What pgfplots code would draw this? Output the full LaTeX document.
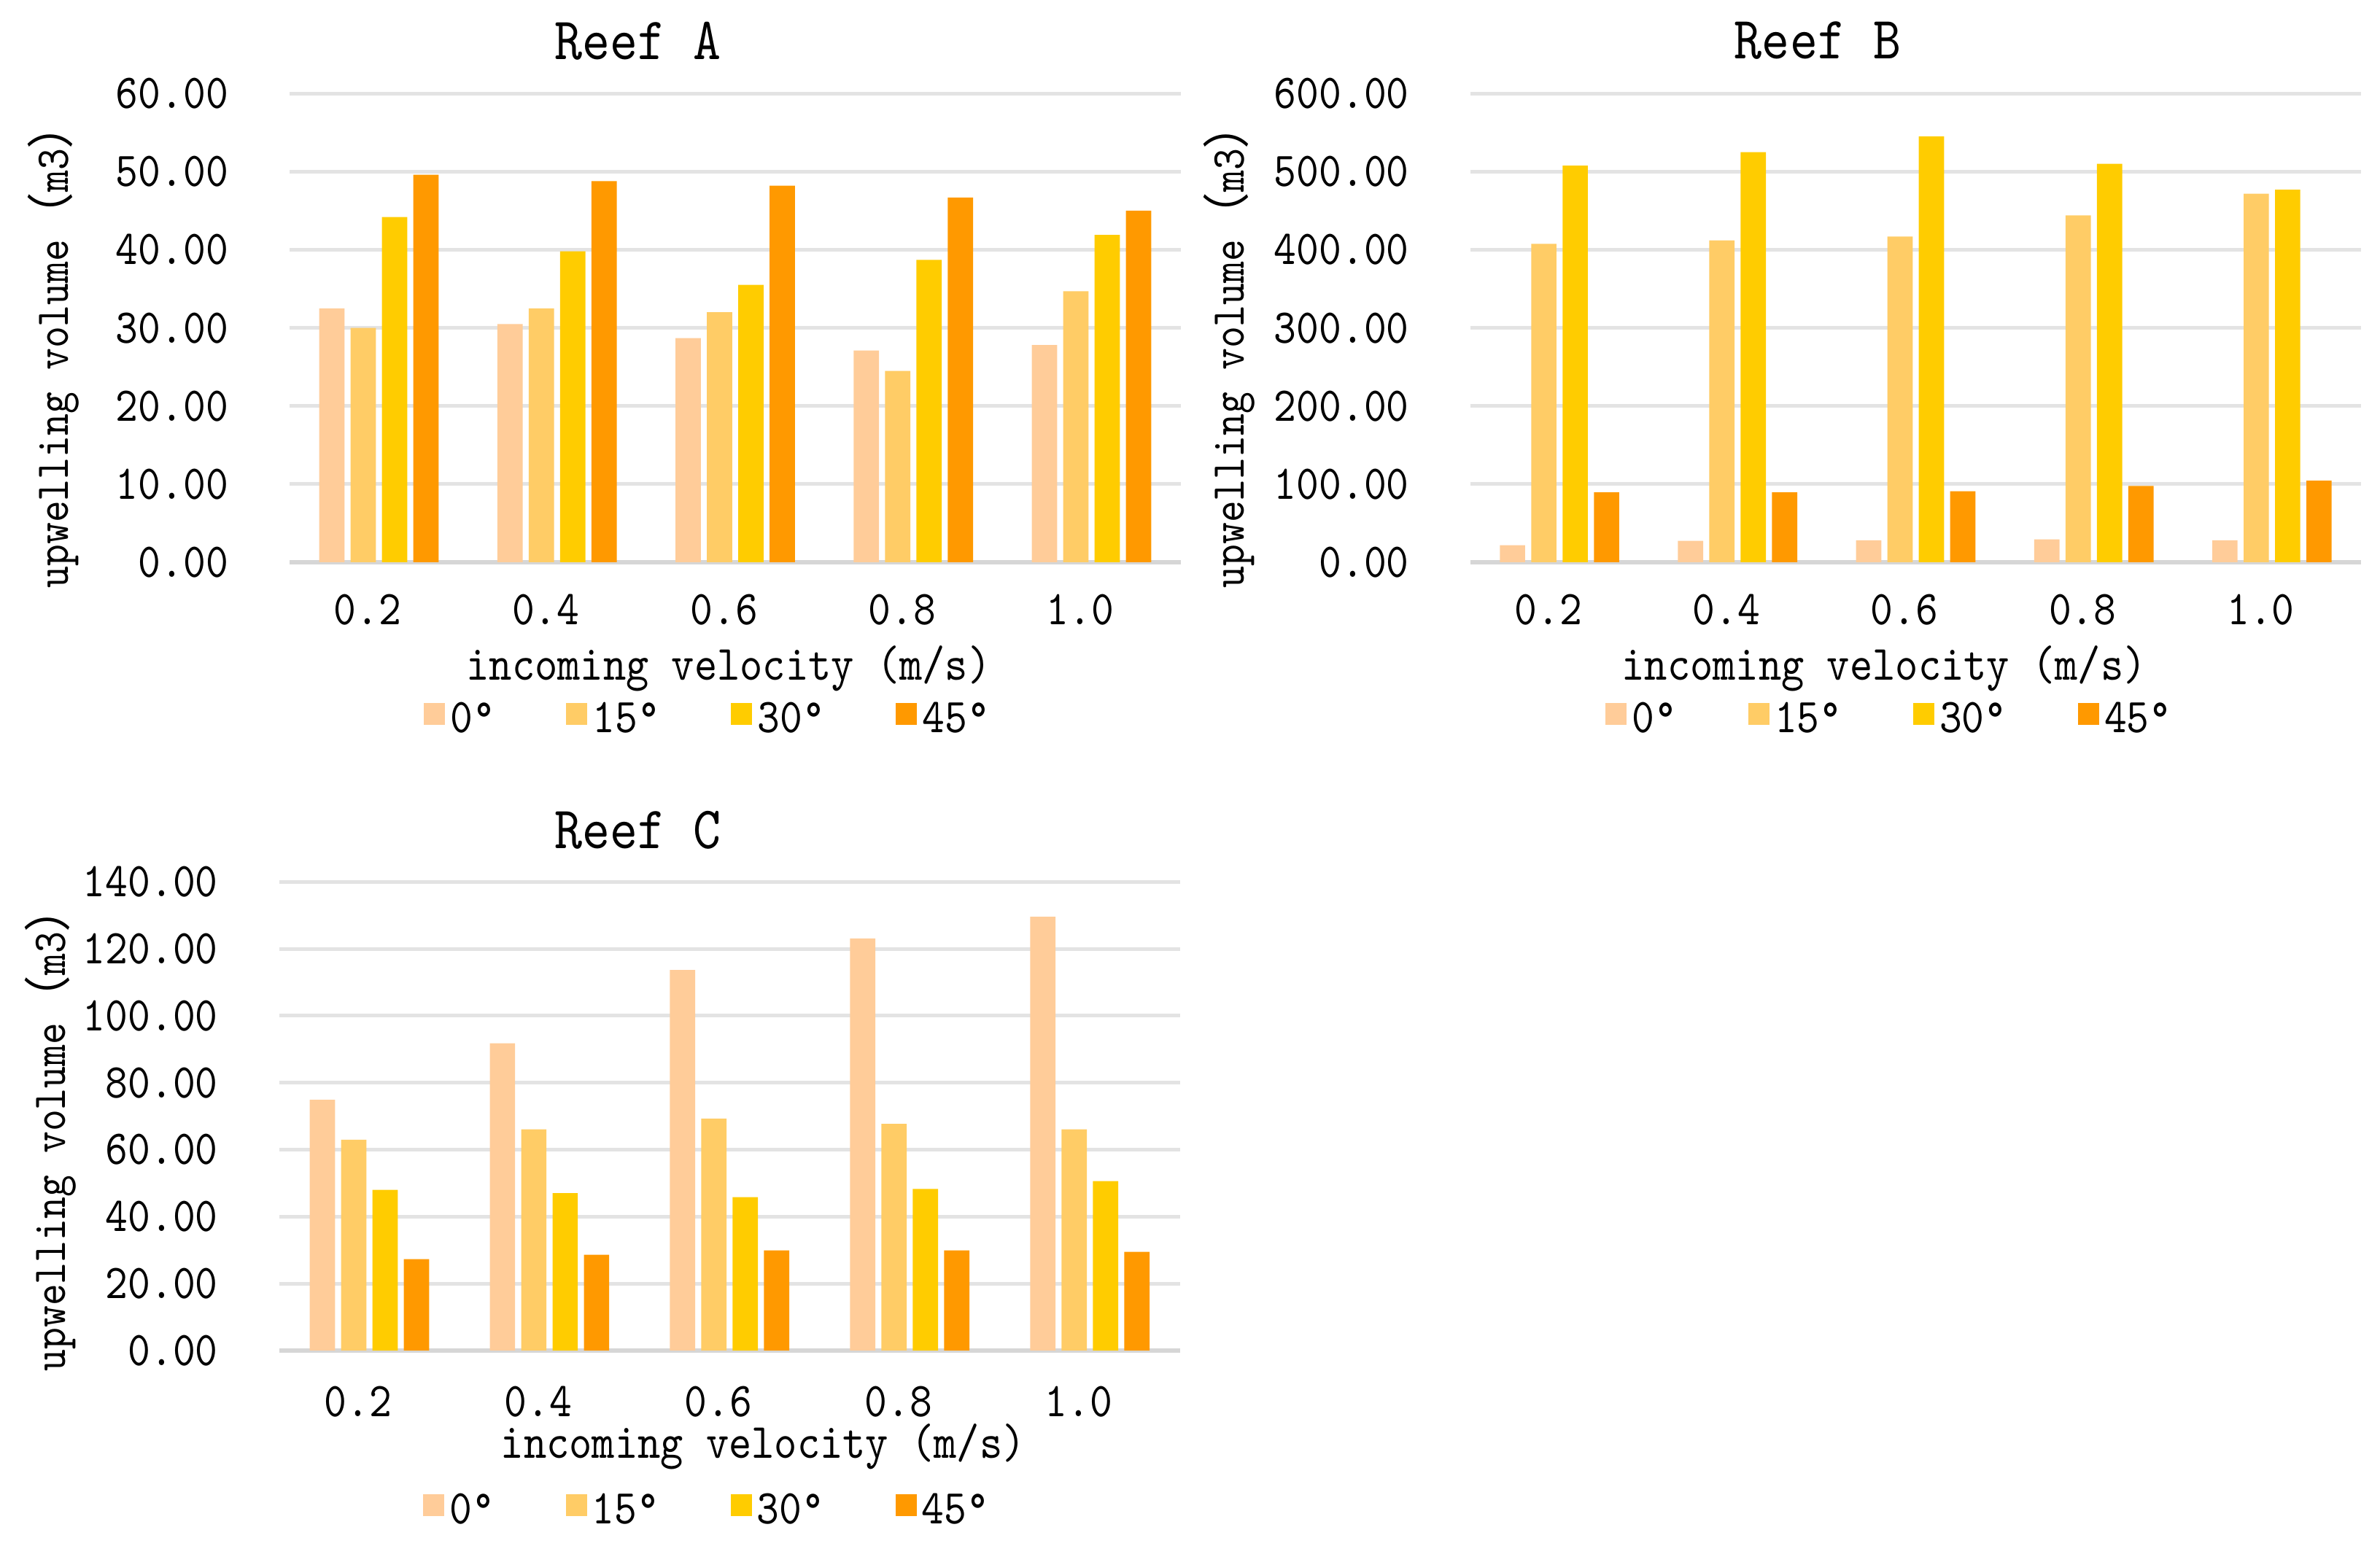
\documentclass[border=0pt]{standalone}
\usepackage{pgfplots}
\pgfplotsset{compat=1.18}
\usepackage{fontspec}
\setmainfont{lmmono10-regular.otf}[FakeStretch=0.88]
\newfontfamily\cjk{Noto Sans CJK SC}
\definecolor{cA}{HTML}{FFCC99}
\definecolor{cB}{HTML}{FFCC66}
\definecolor{cC}{HTML}{FFCC00}
\definecolor{cD}{HTML}{FF9900}
\definecolor{gridc}{HTML}{E3E3E3}
\definecolor{zeroc}{HTML}{D6D6D6}
\pgfplotsset{
  reef/.style={
    scale only axis,
    ybar=1.25pt, bar width=5.2pt,
    xmin=-0.5, xmax=4.5, ymin=0,
    enlargelimits=false,
    xtick={0,1,2,3,4},
    xticklabels={0.2,0.4,0.6,0.8,1.0},
    axis line style={draw=none},
    major tick length=0pt,
    ymajorgrids,
    major grid style={gridc, line width=0.75pt},
    extra y ticks={0},
    extra y tick labels={},
    extra y tick style={grid=major, major grid style={zeroc, line width=0.8pt}},
    /pgf/number format/fixed,
    /pgf/number format/fixed zerofill,
    /pgf/number format/precision=2,
    /pgf/number format/assume math mode=true,
    yticklabel={\pgfmathprintnumber{\tick}},
    y tick label style={font=\fontsize{10pt}{11pt}\selectfont, anchor=east, inner sep=0pt, xshift=-12.45pt},
    x tick label style={font=\fontsize{10pt}{11pt}\selectfont, anchor=center, inner sep=0pt, xshift=-2.3pt},
    xlabel={incoming velocity (m/s)},
    xlabel style={font=\fontsize{10.15pt}{11pt}\selectfont, at={(axis description cs:0.5,0)}, anchor=center, inner sep=0pt},
    legend columns=4,
    legend image code/.code={\fill[##1] (0pt,-0.8pt) rectangle (4.35pt,3.7pt);},
    legend style={draw=none, fill=none, at={(axis description cs:0.5,0)}, anchor=center,
      font=\fontsize{10pt}{11pt}\selectfont,
      nodes={inner sep=0pt},
      /tikz/every odd column/.append style={column sep=1.1pt},
      /tikz/every even column/.append style={column sep=14.6pt}},
    legend cell align=left,
  },
  bA/.style={draw=none, fill=cA},
  bB/.style={draw=none, fill=cB},
  bC/.style={draw=none, fill=cC},
  bD/.style={draw=none, fill=cD},
}
\begin{document}
\begin{tikzpicture}
\useasboundingbox (0pt,0pt) rectangle (489.45pt,318pt);
% ---------------- Reef A
\begin{axis}[reef, at={(59.6pt,202.35pt)}, anchor=south west,
  width=183.2pt, height=96.4pt, ymax=60, ytick={0,10,...,60},
  x tick label style={yshift=-9.75pt},
  xlabel style={yshift=-21.9pt, xshift=-1.35pt},
  legend style={yshift=-32.7pt, xshift=-5.85pt}]
\addplot[bA] coordinates {(0,32.5) (1,30.5) (2,28.7) (3,27.1) (4,27.8)};
\addplot[bB] coordinates {(0,30.0) (1,32.5) (2,32.0) (3,24.5) (4,34.7)};
\addplot[bC] coordinates {(0,44.2) (1,39.8) (2,35.5) (3,38.7) (4,41.9)};
\addplot[bD] coordinates {(0,49.6) (1,48.8) (2,48.2) (3,46.7) (4,45.0)};
\legend{0°,15°,30°,45°}
\end{axis}
% ---------------- Reef B
\begin{axis}[reef, at={(302.4pt,202.35pt)}, anchor=south west,
  width=183.15pt, height=96.4pt, ymax=600, ytick={0,100,...,600},
  x tick label style={yshift=-9.75pt},
  xlabel style={yshift=-21.9pt, xshift=-6.5pt},
  legend style={yshift=-32.7pt, xshift=-5.55pt}]
\addplot[bA] coordinates {(0,21.8) (1,27.4) (2,28.0) (3,29.2) (4,28.0)};
\addplot[bB] coordinates {(0,407.6) (1,412.0) (2,417.0) (3,444.0) (4,471.7)};
\addplot[bC] coordinates {(0,507.8) (1,525.0) (2,545.0) (3,510.0) (4,477.0)};
\addplot[bD] coordinates {(0,89.6) (1,89.6) (2,90.9) (3,97.7) (4,104.5)};
\legend{0°,15°,30°,45°}
\end{axis}
% ---------------- Reef C
\begin{axis}[reef, at={(57.45pt,40.2pt)}, anchor=south west,
  width=185.2pt, height=96.4pt, ymax=140, ytick={0,20,...,140},
  x tick label style={yshift=-10.5pt},
  xlabel style={yshift=-19.8pt, xshift=6.9pt},
  legend style={yshift=-33.3pt, xshift=-4.8pt}]
\addplot[bA] coordinates {(0,74.9) (1,91.8) (2,113.7) (3,123.1) (4,129.6)};
\addplot[bB] coordinates {(0,63.0) (1,66.1) (2,69.3) (3,67.7) (4,66.1)};
\addplot[bC] coordinates {(0,48.0) (1,47.0) (2,45.8) (3,48.3) (4,50.6)};
\addplot[bD] coordinates {(0,27.3) (1,28.6) (2,29.9) (3,29.9) (4,29.5)};
\legend{0°,15°,30°,45°}
\end{axis}
% titles
\node[font=\fontsize{12.35pt}{13pt}\selectfont, inner sep=0pt] at (131.2pt,309.6pt) {Reef A};
\node[font=\fontsize{12.35pt}{13pt}\selectfont, inner sep=0pt] at (373.8pt,309.6pt) {Reef B};
\node[font=\fontsize{12.35pt}{13pt}\selectfont, inner sep=0pt] at (131.2pt,147.3pt) {Reef C};
% y labels
\node[rotate=90, font=\fontsize{9.7pt}{10pt}\selectfont, inner sep=0pt] at (10.95pt,247.05pt) {upwelling volume{\cjk （}m3{\cjk ）}};
\node[rotate=90, font=\fontsize{9.7pt}{10pt}\selectfont, inner sep=0pt] at (252.75pt,247.05pt) {upwelling volume{\cjk （}m3{\cjk ）}};
\node[rotate=90, font=\fontsize{9.7pt}{10pt}\selectfont, inner sep=0pt] at (10.35pt,85.95pt) {upwelling volume{\cjk （}m3{\cjk ）}};
\end{tikzpicture}
\end{document}
